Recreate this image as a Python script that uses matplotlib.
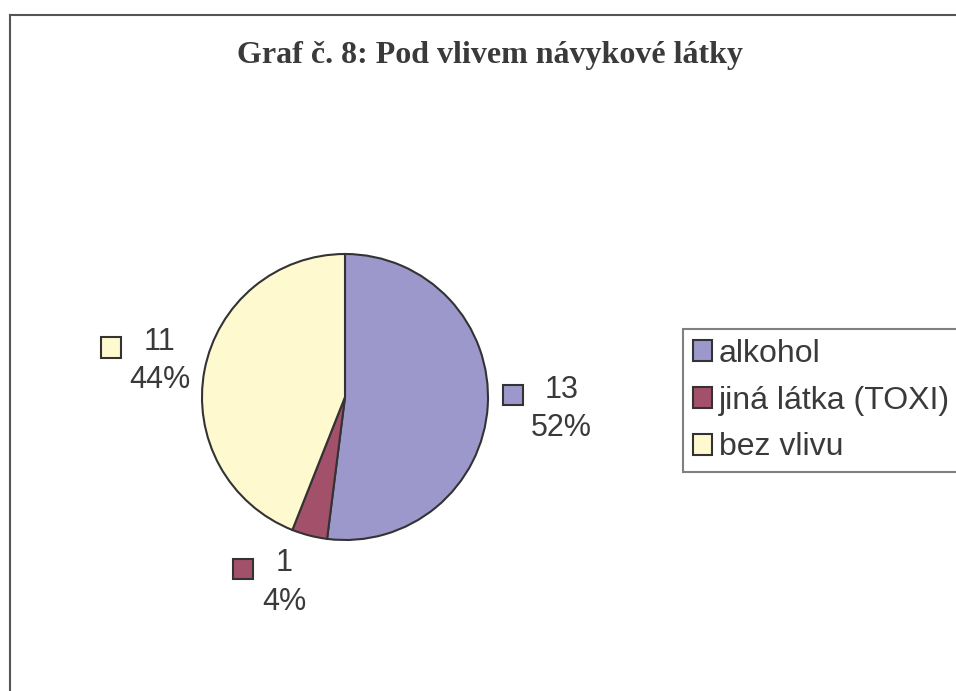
import numpy as np
import matplotlib
matplotlib.use('Agg')
import matplotlib.pyplot as plt
from matplotlib.lines import Line2D
from matplotlib.patches import Rectangle
from matplotlib.offsetbox import AnnotationBbox, DrawingArea, HPacker, VPacker, TextArea

# data
categories = ['alkohol', 'jiná látka (TOXI)', 'bez vlivu']
counts = [13, 1, 11]
colors = ['#9d98cc', '#a3506a', '#fff9d0']
title = 'Graf č. 8: Pod vlivem návykové látky'

text_col = '#3a3a3a'
edge_col = '#333333'

fig = plt.figure(figsize=(9.56, 6.91), dpi=100)
W, H = 956, 691

# outer frame (only left and top visible)
fig.add_artist(Line2D([9.5 / W, 9.5 / W], [0, 1 - 14.5 / H], transform=fig.transFigure,
                      color='#555555', lw=1.5))
fig.add_artist(Line2D([9.5 / W, 1], [1 - 14.5 / H, 1 - 14.5 / H], transform=fig.transFigure,
                      color='#555555', lw=1.5))

fig.text(490 / W, 1 - 55 / H, title, ha='center', va='center', fontsize=23,
         fontweight='bold', family='Liberation Serif', color=text_col)

# pie axes: centre (345, 397) px, radius 143 px
r_px = 143
half = 250
ax = fig.add_axes([(345 - half) / W, 1 - (397 + half) / H, 2 * half / W, 2 * half / H])

wedges, _ = ax.pie(counts, colors=colors, startangle=90, counterclock=False, radius=1,
                   wedgeprops=dict(edgecolor=edge_col, linewidth=1.5))
ax.set_xlim(-half / r_px, half / r_px)
ax.set_ylim(-half / r_px, half / r_px)
ax.set_aspect('equal')
ax.axis('off')

# data labels: key square + value + percent, box edge placed just outside the pie
tp = dict(fontsize=22, family='Liberation Sans', color=text_col)
total = sum(counts)
kx, ky = 4, 1
for w, n, c in zip(wedges, counts, colors):
    mid = np.deg2rad((w.theta1 + w.theta2) / 2)
    cs, sn = np.cos(mid), np.sin(mid)
    key = DrawingArea(16, 24, 0, 0)
    key.add_artist(Rectangle((0.5, 2), 14.5, 14.5, facecolor=c, edgecolor=edge_col, lw=1.5))
    txt = VPacker(children=[TextArea(str(n), textprops=tp),
                            TextArea(f'{n / total * 100:.0f}%', textprops=tp)],
                  align='center', pad=0, sep=6)
    box = HPacker(children=[key, txt], align='top', pad=0, sep=5)
    align = (0.5 - 0.5 * np.clip(kx * cs, -1, 1), 0.5 - 0.5 * np.clip(ky * sn, -1, 1))
    ab = AnnotationBbox(box, (1.1 * cs, 1.1 * sn), xycoords='data', frameon=False,
                        box_alignment=align, annotation_clip=False)
    ax.add_artist(ab)

leg = fig.legend(wedges, categories, loc='upper left', bbox_to_anchor=(683 / W, 1 - 329 / H),
                 frameon=True, fancybox=False, edgecolor='#808080', framealpha=1,
                 prop=dict(family='Liberation Sans', size=23),
                 handlelength=0.62, handleheight=0.62, handletextpad=0.2,
                 labelspacing=0.53, borderpad=0.3, borderaxespad=0)
for t in leg.get_texts():
    t.set_color(text_col)
leg.get_frame().set_linewidth(1.5)

fig.savefig('out.png', dpi=100)
